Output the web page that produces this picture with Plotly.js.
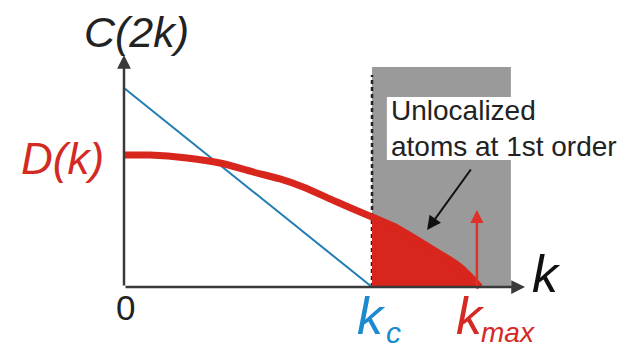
<!DOCTYPE html>
<html>
<head>
<meta charset="utf-8">
<script src="https://cdn.plot.ly/plotly-3.0.1.min.js"></script>
<style>html,body{margin:0;padding:0;background:#fff;}#chart{width:639px;height:350px;}</style>
</head>
<body>
<div id="chart"></div>
<script>
// ---- data (arbitrary units: k on x, C/D on y) ----
const kValues = [0, 0.105, 0.254, 0.387, 0.520, 0.629, 0.722, 0.859, 1.0, 1.085, 1.222, 1.355, 1.435];
const dValues = [0.663, 0.663, 0.648, 0.623, 0.578, 0.543, 0.503, 0.427, 0.352, 0.307, 0.206, 0.101, 0];
const cK = [0, 1.0];
const cValues = [1.0, 0];
const kc = 1.0;
const kmax = 1.435;
const kGreyEnd = 1.56;
const greyTop = 1.106;
const dottedTop = 1.065;
const kAxisEnd = 1.617;
const yAxisEnd = 1.166;
const kmaxArrowX = 1.423;
const kmaxArrowTop = 0.387;
const boxLeft = 1.06, boxBottom = 0.638, boxTop = 0.955;
const calloutTail = [1.403, 0.598];
const calloutTip = [1.222, 0.286];
const labels = {
  yTitle: "C(2k)", curve: "D(k)", origin: "0", axis: "k",
  kc: "k", kcSub: "c", kmax: "k", kmaxSub: "max",
  note: "Unlocalized<br>atoms at 1st order"
};

const RED = '#d8261d', BLUE = '#1f7db4', BLUE_T = '#1b8ad0', RED_T = '#d42a24', AX = '#3a3a3a';

// fill region: part of curve with k >= kc
const fillK = [], fillD = [];
kValues.forEach((k, i) => { if (k >= kc) { fillK.push(k); fillD.push(dValues[i]); } });

const traces = [
  { x: fillK, y: fillD, mode: 'lines', fill: 'tozeroy', fillcolor: RED,
    line: { width: 0, color: RED, shape: 'spline', smoothing: 0.8 }, hoverinfo: 'skip' },
  { x: cK, y: cValues, mode: 'lines', line: { color: BLUE, width: 2 }, hoverinfo: 'skip' },
  { x: kValues, y: dValues, mode: 'lines', line: { color: RED, width: 7, shape: 'spline', smoothing: 0.8 }, hoverinfo: 'skip' }
];

const W = 639, H = 350;
const x0px = 124, y0px = 287, xScale = 248, yScale = 199;
const xr = [-x0px / xScale, (W - x0px) / xScale];
const yr = [-(H - y0px) / yScale, y0px / yScale];
const px = p => (p - x0px) / xScale;     // pixel -> data x (for label placement)
const py = p => (y0px - p) / yScale;     // pixel -> data y

const FONT = 'Liberation Sans, Arial, sans-serif';
function label(text, xp, yp, size, color, italic, anchor) {
  return { x: px(xp), y: py(yp), xref: 'x', yref: 'y', text: italic ? '<i>' + text + '</i>' : text,
    showarrow: false, xanchor: anchor || 'center', yanchor: 'middle',
    font: { family: FONT, size: size, color: color } };
}
function arrow(tip, tail, color, width, size) {
  return { x: tip[0], y: tip[1], ax: tail[0], ay: tail[1], xref: 'x', yref: 'y', axref: 'x', ayref: 'y',
    text: '', showarrow: true, arrowhead: 2, arrowsize: size, arrowwidth: width, arrowcolor: color, standoff: 0 };
}

const layout = {
  width: W, height: H, margin: { l: 0, r: 0, t: 0, b: 0 },
  paper_bgcolor: '#fff', plot_bgcolor: '#fff', showlegend: false,
  xaxis: { range: xr, visible: false, fixedrange: true },
  yaxis: { range: yr, visible: false, fixedrange: true },
  shapes: [
    { type: 'rect', xref: 'x', yref: 'y', x0: kc, x1: kGreyEnd, y0: 0, y1: greyTop,
      fillcolor: '#9a9a9a', line: { width: 0 }, layer: 'below' },
    { type: 'rect', xref: 'x', yref: 'y', x0: boxLeft, x1: kGreyEnd + 0.05, y0: boxBottom, y1: boxTop,
      fillcolor: '#fff', line: { width: 0 }, layer: 'below' },
    { type: 'line', xref: 'x', yref: 'y', x0: kc, x1: kc, y0: 0, y1: dottedTop,
      line: { color: '#222', width: 2.5, dash: '4px,3px' }, layer: 'below' }
  ],
  annotations: [
    arrow([kAxisEnd, 0], [0, 0], AX, 2.5, 1.1),
    arrow([0, yAxisEnd], [0, 0], AX, 2.5, 1.1),
    arrow([kmaxArrowX, kmaxArrowTop], [kmaxArrowX, 0], '#e0302a', 2.5, 1.05),
    arrow(calloutTip, calloutTail, '#111', 2, 1.4),
    label(labels.yTitle, 136, 32, 43, '#222', true),
    label(labels.curve, 62, 158, 44, RED_T, true),
    label(labels.origin, 125, 307, 35, '#222', false),
    label(labels.axis, 546, 274, 52, '#111', true),
    label(labels.kc, 371, 316, 52, BLUE_T, true),
    label(labels.kcSub, 393, 332, 30, BLUE_T, true),
    label(labels.kmax, 470, 316, 52, RED_T, true),
    label(labels.kmaxSub, 508, 332, 28, RED_T, true),
    Object.assign(label(labels.note, 389, 128.5, 28, '#222', false, 'left'), { align: 'left' })
  ]
};

Plotly.newPlot('chart', traces, layout, { staticPlot: true, displayModeBar: false });
</script>
</body>
</html>
